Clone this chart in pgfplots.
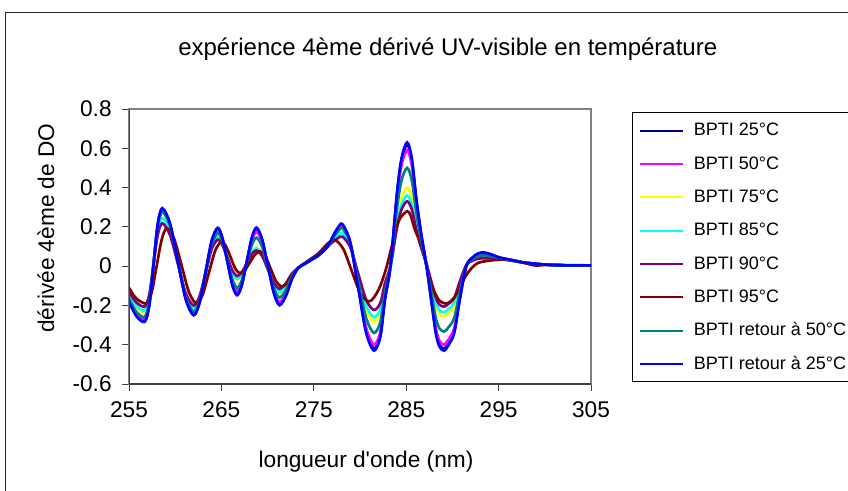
\documentclass[border=0pt]{standalone}
\usepackage{pgfplots}
\pgfplotsset{compat=1.18}
\usepackage{pgfplotstable}
\usepackage{fontspec}
\setmainfont{Liberation Sans}
\definecolor{cNavy}{HTML}{000080}
\definecolor{cMag}{HTML}{FF00FF}
\definecolor{cYel}{HTML}{FFFF00}
\definecolor{cCyan}{HTML}{00FFFF}
\definecolor{cPurp}{HTML}{800080}
\definecolor{cMar}{HTML}{800000}
\definecolor{cTeal}{HTML}{008080}
\definecolor{cBlue}{HTML}{0000FF}
\pgfplotstableread{
x blue navy mag teal yel cyan purp
255.0 -0.180 -0.176 -0.170 -0.165 -0.150 -0.145 -0.130
255.8 -0.255 -0.250 -0.241 -0.233 -0.212 -0.203 -0.185
256.7 -0.283 -0.278 -0.268 -0.258 -0.235 -0.225 -0.205
257.2 -0.199 -0.195 -0.188 -0.180 -0.164 -0.157 -0.143
257.65 0.006 0.006 0.006 0.010 0.007 0.010 0.007
258.1 0.211 0.207 0.200 0.199 0.177 0.176 0.156
258.6 0.295 0.290 0.280 0.277 0.248 0.244 0.218
259.45 0.215 0.212 0.204 0.203 0.180 0.177 0.157
260.3 0.022 0.022 0.020 0.023 0.017 0.016 0.009
261.15 -0.170 -0.168 -0.164 -0.158 -0.147 -0.145 -0.139
262.0 -0.250 -0.246 -0.240 -0.232 -0.215 -0.212 -0.200
262.65 -0.185 -0.182 -0.179 -0.174 -0.162 -0.160 -0.151
263.3 -0.028 -0.028 -0.030 -0.032 -0.033 -0.034 -0.033
263.95 0.130 0.126 0.119 0.110 0.097 0.093 0.086
264.6 0.195 0.190 0.180 0.168 0.150 0.145 0.135
265.1 0.145 0.142 0.135 0.127 0.118 0.114 0.108
265.65 0.022 0.024 0.026 0.029 0.040 0.040 0.043
266.2 -0.100 -0.094 -0.083 -0.069 -0.038 -0.034 -0.023
266.7 -0.148 -0.142 -0.128 -0.110 -0.070 -0.065 -0.050
267.2 -0.099 -0.094 -0.084 -0.073 -0.046 -0.042 -0.031
267.75 0.024 0.024 0.024 0.018 0.013 0.013 0.015
268.3 0.147 0.142 0.131 0.108 0.071 0.067 0.061
268.8 0.196 0.190 0.175 0.145 0.095 0.090 0.080
269.4 0.138 0.134 0.123 0.100 0.061 0.058 0.052
270.05 -0.002 -0.002 -0.004 -0.008 -0.022 -0.020 -0.018
270.7 -0.141 -0.137 -0.131 -0.115 -0.104 -0.098 -0.087
271.3 -0.199 -0.193 -0.183 -0.160 -0.138 -0.130 -0.115
272.0 -0.150 -0.145 -0.137 -0.120 -0.104 -0.098 -0.086
272.6 -0.070 -0.068 -0.064 -0.056 -0.048 -0.046 -0.040
273.3 -0.010 -0.010 -0.010 -0.010 -0.010 -0.010 -0.010
274.3 0.020 0.020 0.020 0.020 0.020 0.020 0.020
275.5 0.055 0.055 0.055 0.055 0.055 0.055 0.057
276.5 0.100 0.100 0.100 0.100 0.100 0.100 0.103
277.1 0.155 0.153 0.149 0.145 0.136 0.133 0.124
277.6 0.195 0.191 0.185 0.177 0.162 0.156 0.142
278.1 0.214 0.210 0.203 0.193 0.175 0.168 0.150
278.95 0.121 0.118 0.115 0.115 0.108 0.106 0.096
279.8 -0.108 -0.105 -0.099 -0.074 -0.054 -0.046 -0.037
280.65 -0.336 -0.328 -0.312 -0.262 -0.216 -0.198 -0.169
281.5 -0.430 -0.420 -0.400 -0.340 -0.283 -0.260 -0.223
282.2 -0.360 -0.351 -0.335 -0.285 -0.238 -0.219 -0.187
282.7 -0.170 -0.165 -0.157 -0.134 -0.116 -0.108 -0.088
283.3 0.000 0.002 0.002 0.001 -0.006 -0.008 0.002
284.0 0.370 0.365 0.347 0.294 0.233 0.208 0.195
284.5 0.550 0.542 0.516 0.437 0.349 0.314 0.289
285.1 0.630 0.620 0.590 0.500 0.400 0.360 0.330
285.6 0.550 0.542 0.516 0.438 0.351 0.315 0.290
286.1 0.340 0.335 0.319 0.272 0.220 0.197 0.183
286.6 0.170 0.169 0.160 0.138 0.115 0.102 0.097
287.2 0.000 0.002 0.002 0.005 0.010 0.007 0.012
287.7 -0.170 -0.165 -0.157 -0.129 -0.096 -0.089 -0.075
288.2 -0.340 -0.332 -0.316 -0.262 -0.201 -0.184 -0.160
288.6 -0.410 -0.400 -0.381 -0.317 -0.245 -0.224 -0.196
289.1 -0.430 -0.420 -0.400 -0.333 -0.257 -0.235 -0.206
289.6 -0.400 -0.391 -0.372 -0.310 -0.239 -0.218 -0.191
290.2 -0.340 -0.332 -0.316 -0.263 -0.203 -0.185 -0.162
290.8 -0.170 -0.166 -0.158 -0.131 -0.100 -0.090 -0.078
291.5 0.000 0.000 0.000 0.000 0.003 0.004 0.006
292.2 0.045 0.044 0.042 0.036 0.030 0.029 0.028
292.8 0.065 0.063 0.060 0.051 0.042 0.040 0.038
293.4 0.070 0.068 0.065 0.055 0.045 0.043 0.040
294.2 0.060 0.059 0.057 0.050 0.043 0.041 0.040
295.0 0.045 0.045 0.044 0.042 0.038 0.037 0.036
296.0 0.035 0.035 0.034 0.033 0.032 0.031 0.031
297.5 0.020 0.020 0.020 0.020 0.020 0.020 0.020
299.0 0.012 0.012 0.012 0.012 0.012 0.012 0.012
301.0 0.005 0.005 0.005 0.005 0.005 0.005 0.005
303.0 0.004 0.004 0.004 0.004 0.004 0.004 0.004
305.0 0.004 0.004 0.004 0.004 0.004 0.004 0.004
}\maintab
\pgfplotstableread{
x y
255.0 -0.110
255.8 -0.165
256.9 -0.190
257.45 -0.134
258.0 0.002
258.55 0.137
259.1 0.193
259.9 0.137
260.7 0.002
261.5 -0.134
262.3 -0.190
262.98 -0.144
263.65 -0.033
264.33 0.079
265.0 0.125
265.5 0.101
266.0 0.045
266.5 -0.012
267.0 -0.036
267.55 -0.020
268.1 0.020
268.65 0.059
269.2 0.075
269.78 0.049
270.35 -0.015
270.93 -0.078
271.5 -0.104
272.0 -0.090
272.6 -0.050
273.3 -0.010
274.3 0.025
275.5 0.065
276.5 0.115
277.3 0.133
278.2 0.087
279.1 -0.024
280.0 -0.134
280.9 -0.180
281.5 -0.160
282.2 -0.100
282.9 0.000
283.8 0.170
284.3 0.240
285.1 0.280
285.5 0.255
285.95 0.184
286.7 0.100
287.2 0.000
287.8 -0.100
288.5 -0.170
289.4 -0.190
290.3 -0.153
291.2 -0.070
291.9 -0.020
292.8 0.017
294.6 0.031
296.2 0.033
297.9 0.015
299.0 0.003
300.6 0.008
302.5 0.005
305.0 0.004
}\maroontab
\begin{document}
\begin{tikzpicture}
\useasboundingbox (0,0) rectangle (636pt,-367.5pt);
\fill[white] (0,0) rectangle (636pt,-367.5pt);
\draw[line width=0.75pt, black!85] (3.75pt,-400pt) -- (3.75pt,-9pt) -- (700pt,-9pt);
\begin{axis}[
  at={(96.75pt,-288pt)}, anchor=south west,
  scale only axis, width=346.5pt, height=206.25pt,
  xmin=255, xmax=305, ymin=-0.6, ymax=0.8,
  xtick={255,265,275,285,295,305},
  xticklabels={255,265,275,285,295,305},
  ytick={-0.6,-0.4,-0.2,0,0.2,0.4,0.6,0.8},
  yticklabels={-0.6,-0.4,-0.2,0,0.2,0.4,0.6,0.8},
  tick align=outside, xtick pos=bottom, ytick pos=left,
  major tick length=5pt,
  tick style={black!75, line width=0.75pt},
  axis line style={black!50, line width=0.9pt},
  tick label style={font=\fontsize{17}{20}\selectfont},
  xticklabel style={yshift=-5pt},
  yticklabel style={xshift=-4.5pt},
  label style={font=\fontsize{17}{20}\selectfont},
  title={expérience 4ème dérivé UV-visible en température},
  title style={at={(axis description cs:0.690,1.211)}, anchor=base, yshift=-9.5pt, font=\fontsize{18}{21}\selectfont, inner sep=0pt},
  xlabel={longueur d\textquotesingle onde (nm)},
  xlabel style={at={(axis description cs:0.513,-0.305)}, anchor=base, inner sep=0pt},
  ylabel={dérivée 4ème de DO},
  ylabel style={at={(axis description cs:-0.18,0.567)}, anchor=center, inner sep=0pt},
  legend cell align=left,
  legend image code/.code={\draw[#1, line width=1.5pt] (0pt,0pt) -- (32pt,0pt);},
  legend style={at={(axis description cs:1.0887,0.989)}, anchor=north west,
    draw=black, line width=0.75pt, fill=white,
    font=\fontsize{13.5}{16}\selectfont,
    inner xsep=5pt, inner ysep=7pt, row sep=12pt, column sep=7.5pt,
    nodes={inner sep=0pt, text height=10.5pt, text depth=2.5pt}},
  every axis plot/.append style={line width=2pt, smooth},
]
\addplot[cNavy] table[x=x, y=navy] {\maintab};
\addlegendentry{BPTI 25°C}
\addplot[cMag] table[x=x, y=mag] {\maintab};
\addlegendentry{BPTI 50°C}
\addplot[cYel] table[x=x, y=yel] {\maintab};
\addlegendentry{BPTI 75°C}
\addplot[cCyan] table[x=x, y=cyan] {\maintab};
\addlegendentry{BPTI 85°C}
\addplot[cPurp] table[x=x, y=purp] {\maintab};
\addlegendentry{BPTI 90°C}
\addplot[cMar] table[x=x, y=y] {\maroontab};
\addlegendentry{BPTI 95°C}
\addplot[cTeal] table[x=x, y=teal] {\maintab};
\addlegendentry{BPTI retour à 50°C}
\addplot[cBlue] table[x=x, y=blue] {\maintab};
\addlegendentry{BPTI retour à 25°C}
\draw[black!75, line width=1.5pt] (rel axis cs:0,1) -- (rel axis cs:0,0) -- (rel axis cs:1,0);
\end{axis}
\end{tikzpicture}
\end{document}
